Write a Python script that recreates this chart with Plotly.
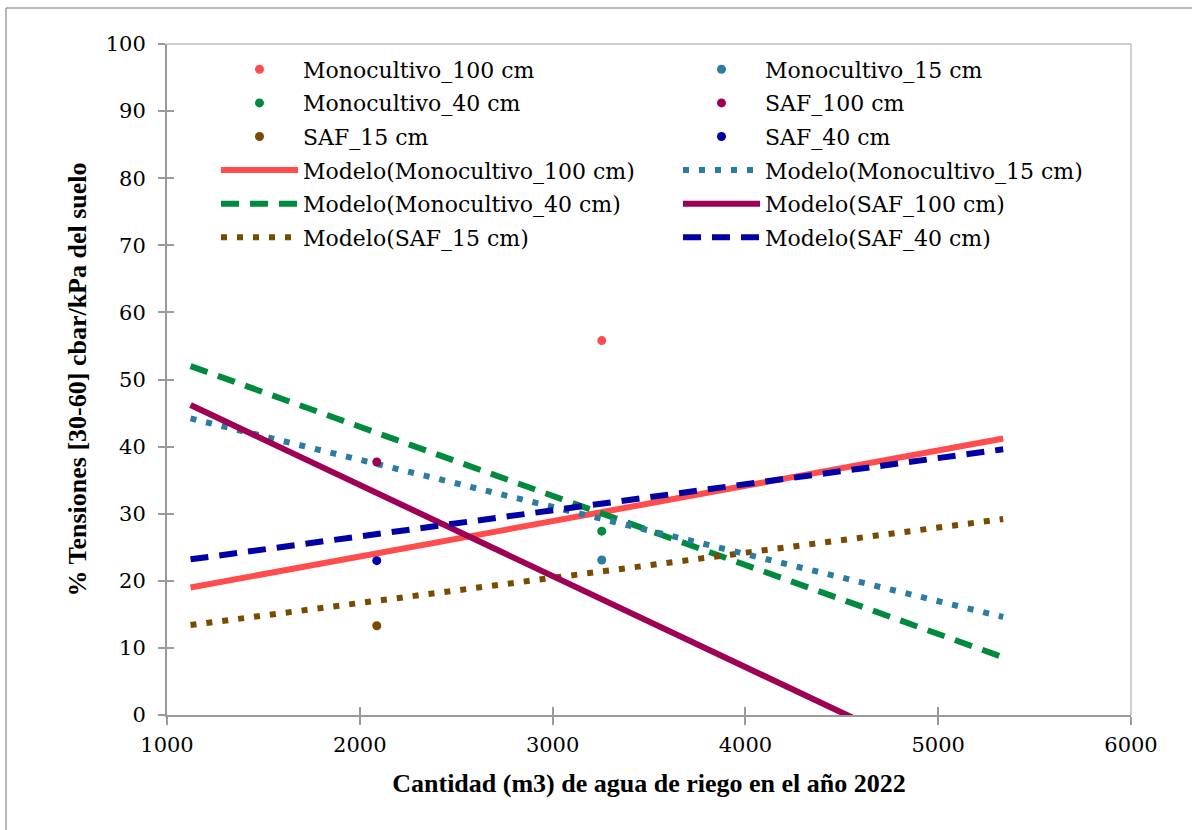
import plotly.graph_objects as go

# ---------------- data ----------------
mono_x = [3255]          # x of visible Monocultivo observations
saf_x = [2088]           # x of visible SAF observations
mono100_y = [55.8]
mono15_y = [23.1]
mono40_y = [27.4]
saf100_y = [37.7]
saf15_y = [13.3]
saf40_y = [23.0]

trend_x = [1122, 5337]   # span of the linear models
trend_mono100 = [19.0, 41.2]
trend_mono15 = [44.2, 14.6]
trend_mono40 = [52.0, 8.6]
trend_saf100 = [46.2, -11.0]
trend_saf15 = [13.4, 29.2]
trend_saf40 = [23.2, 39.6]

x_ticks = [1000, 2000, 3000, 4000, 5000, 6000]
y_ticks = [0, 10, 20, 30, 40, 50, 60, 70, 80, 90, 100]

# ---------------- style ----------------
FONT = "Liberation Serif"
TFONT = "DejaVu Serif"
LFONT = "DejaVu Serif"
FS = 26
TFS = 21
LFS = 22
C_RED = "#FF4D4D"
C_TEAL = "#2C7BA0"
C_GREEN = "#008A3E"
C_MAG = "#9E0056"
C_BROWN = "#7A4A00"
C_BLUE = "#0000A6"

W, H = 1192, 830
L, R, T, B = 167, 1131, 44, 715


def px_x(p):
    return (p - L) / (R - L)


def px_y(p):
    return (B - p) / (B - T)


fig = go.Figure()

points = [
    ("Monocultivo_100 cm", mono_x, mono100_y, C_RED, "legend"),
    ("Monocultivo_40 cm", mono_x, mono40_y, C_GREEN, "legend"),
    ("SAF_15 cm", saf_x, saf15_y, C_BROWN, "legend"),
    ("Monocultivo_15 cm", mono_x, mono15_y, C_TEAL, "legend2"),
    ("SAF_100 cm", saf_x, saf100_y, C_MAG, "legend2"),
    ("SAF_40 cm", saf_x, saf40_y, C_BLUE, "legend2"),
]
models = [
    ("Modelo(Monocultivo_100 cm)", trend_mono100, C_RED, "solid", "legend"),
    ("Modelo(Monocultivo_40 cm)", trend_mono40, C_GREEN, "18px,11px", "legend"),
    ("Modelo(SAF_15 cm)", trend_saf15, C_BROWN, "6px,10px", "legend"),
    ("Modelo(Monocultivo_15 cm)", trend_mono15, C_TEAL, "6px,10px", "legend2"),
    ("Modelo(SAF_100 cm)", trend_saf100, C_MAG, "solid", "legend2"),
    ("Modelo(SAF_40 cm)", trend_saf40, C_BLUE, "18px,11px", "legend2"),
]

for name, ys, col, dash, lg in models:
    fig.add_trace(go.Scatter(
        x=trend_x, y=ys, mode="lines", name=name, legend=lg, legendgroup=name,
        line=dict(color=col, width=6, dash=dash),
    ))
for name, xs, ys, col, lg in points:
    fig.add_trace(go.Scatter(
        x=xs, y=ys, mode="markers", name=name, legend=lg, legendgroup=name,
        marker=dict(color=col, size=9),
    ))

for i, tr in enumerate(fig.data):
    tr.legendrank = (i - 6) if i >= 6 else (i + 10)

axis_common = dict(
    showgrid=False, zeroline=False,
    tickfont=dict(family=TFONT, size=TFS, color="#000000"),
)

legend_common = dict(
    xanchor="left", yanchor="top", bgcolor="rgba(0,0,0,0)", itemwidth=77,
    traceorder="grouped", font=dict(family=LFONT, size=LFS), tracegroupgap=2,
    groupclick="toggleitem",
)

fig.update_layout(
    width=W, height=H,
    margin=dict(l=L, r=W - R, t=T, b=H - B),
    paper_bgcolor="white", plot_bgcolor="white",
    font=dict(family=FONT, size=FS, color="#000000"),
    xaxis=dict(
        range=[1000, 6000], tickvals=x_ticks, ticktext=[str(v) for v in x_ticks],
        showline=True, linecolor="#9A9A9A", linewidth=2,
        ticks="outside", ticklen=8, tickwidth=2, tickcolor="#9A9A9A",
        ticklabelstandoff=2,
        title=dict(text="<b>Cantidad (m3) de agua de riego en el año 2022</b>",
                   font=dict(family=FONT, size=FS), standoff=18),
        **axis_common,
    ),
    yaxis=dict(
        range=[0, 100], tickvals=y_ticks, ticktext=[str(v) for v in y_ticks],
        showline=True, linecolor="#9A9A9A", linewidth=2,
        ticks="outside", ticklen=7, tickwidth=2, tickcolor="#9A9A9A",
        ticklabelstandoff=8,
        title=dict(text="<b>% Tensiones [30-60] cbar/kPa del suelo</b>",
                   font=dict(family=FONT, size=FS), standoff=12),
        **axis_common,
    ),
    xaxis2=dict(range=[1000, 6000], tickvals=x_ticks, overlaying="x", anchor="y",
                side="bottom", ticks="inside", ticklen=8, tickwidth=2,
                tickcolor="#9A9A9A", showticklabels=False, showline=False,
                showgrid=False, zeroline=False),
    yaxis2=dict(range=[0, 100], tickvals=y_ticks, overlaying="y", anchor="x",
                side="left", ticks="inside", ticklen=7, tickwidth=2,
                tickcolor="#9A9A9A", showticklabels=False, showline=False,
                showgrid=False, zeroline=False),
    legend=dict(x=px_x(216), y=px_y(48.5), **legend_common),
    legend2=dict(x=px_x(678), y=px_y(48.5), **legend_common),
    shapes=[
        dict(type="line", xref="paper", yref="paper", x0=0, x1=1, y0=1, y1=1,
             line=dict(color="#CFCFCF", width=2)),
        dict(type="line", xref="paper", yref="paper", x0=1, x1=1, y0=0, y1=1,
             line=dict(color="#CFCFCF", width=2)),
        dict(type="line", xref="paper", yref="paper", x0=px_x(6), x1=px_x(1200),
             y0=px_y(8), y1=px_y(8), line=dict(color="#A0A0A0", width=1.5)),
        dict(type="line", xref="paper", yref="paper", x0=px_x(6), x1=px_x(6),
             y0=px_y(8), y1=px_y(840), line=dict(color="#A0A0A0", width=1.5)),
    ],
)

fig.add_trace(go.Scatter(x=[None], y=[None], xaxis="x2", yaxis="y2",
                         showlegend=False, hoverinfo="skip"))

fig.write_html("out.html")
